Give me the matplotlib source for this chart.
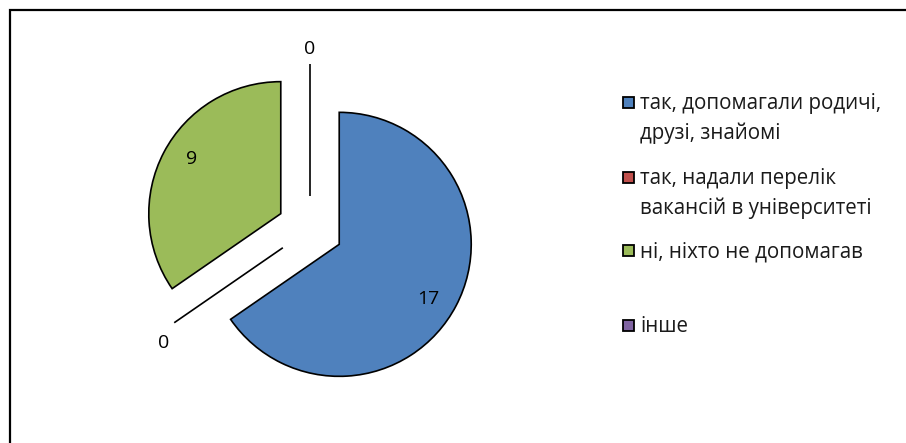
import math

import matplotlib
matplotlib.use("Agg")

import matplotlib.pyplot as plt
import matplotlib.patches as patches

plt.rcParams["font.family"] = ["Open Sans", "DejaVu Sans"]

# ========= 数据 =========
labels = [
    "так, допомагали родичі,\nдрузі, знайомі",
    "так, надали перелік\nвакансій в університеті",
    "ні, ніхто не допомагав",
    "інше",
]
values = [17, 0, 9, 0]
colors = ["#4F81BD", "#C0504D", "#9BBB59", "#8064A2"]

W, H = 906, 443
R = 132

fig = plt.figure(figsize=(W / 100, H / 100), dpi=100)
ax = fig.add_axes([0, 0, 1, 1])

# ========= 外框（只有上、左） =========
ax.plot([10, 10, W], [0, H - 10, H - 10], color="black", lw=1.6,
        solid_joinstyle="miter", clip_on=False)

# ========= 饼图 =========
wedges, _ = ax.pie(
    values,
    colors=colors,
    startangle=90,
    counterclock=False,
    explode=[0.25 * R] * len(values),
    radius=R,
    center=(310, H - 229),
    wedgeprops=dict(edgecolor="black", linewidth=1.2),
    frame=True,
)
ax.set_xlim(0, W)
ax.set_ylim(0, H)
ax.set_aspect("equal")
ax.axis("off")

# 数值标签
for w, v in zip(wedges, values):
    cx, cy = w.center
    if v > 0:
        mid = math.radians((w.theta1 + w.theta2) / 2 - 4)
        dist = w.r * 0.79
        ax.text(cx + dist * math.cos(mid), cy + dist * math.sin(mid), str(v),
                ha="center", va="center", fontsize=14, color="black")
    else:
        # 零值：标签贴在线段外端
        a = math.radians(w.theta1)
        ca, sa = math.cos(a), math.sin(a)
        ex, ey = cx + (w.r + 6) * ca, cy + (w.r + 6) * sa
        ha = "center" if abs(ca) < 0.3 else ("right" if ca < 0 else "left")
        va = "center" if abs(sa) < 0.3 else ("bottom" if sa > 0 else "top")
        ax.text(ex, ey - (8 if va == "top" else 0), str(v), ha=ha, va=va,
                fontsize=14, color="black")

# ========= 图例（手动排列） =========
leg_y = [102, 177, 250, 325]
for lab, col, py in zip(labels, colors, leg_y):
    y = H - py
    ax.add_patch(patches.Rectangle((623, y - 5.5), 11, 11, facecolor=col,
                                   edgecolor="black", lw=1.3))
    ax.text(640, y + 9, lab, ha="left", va="top", fontsize=14.8,
            linespacing=1.5, color="#1a1a1a")

fig.savefig("out.png", dpi=100)
